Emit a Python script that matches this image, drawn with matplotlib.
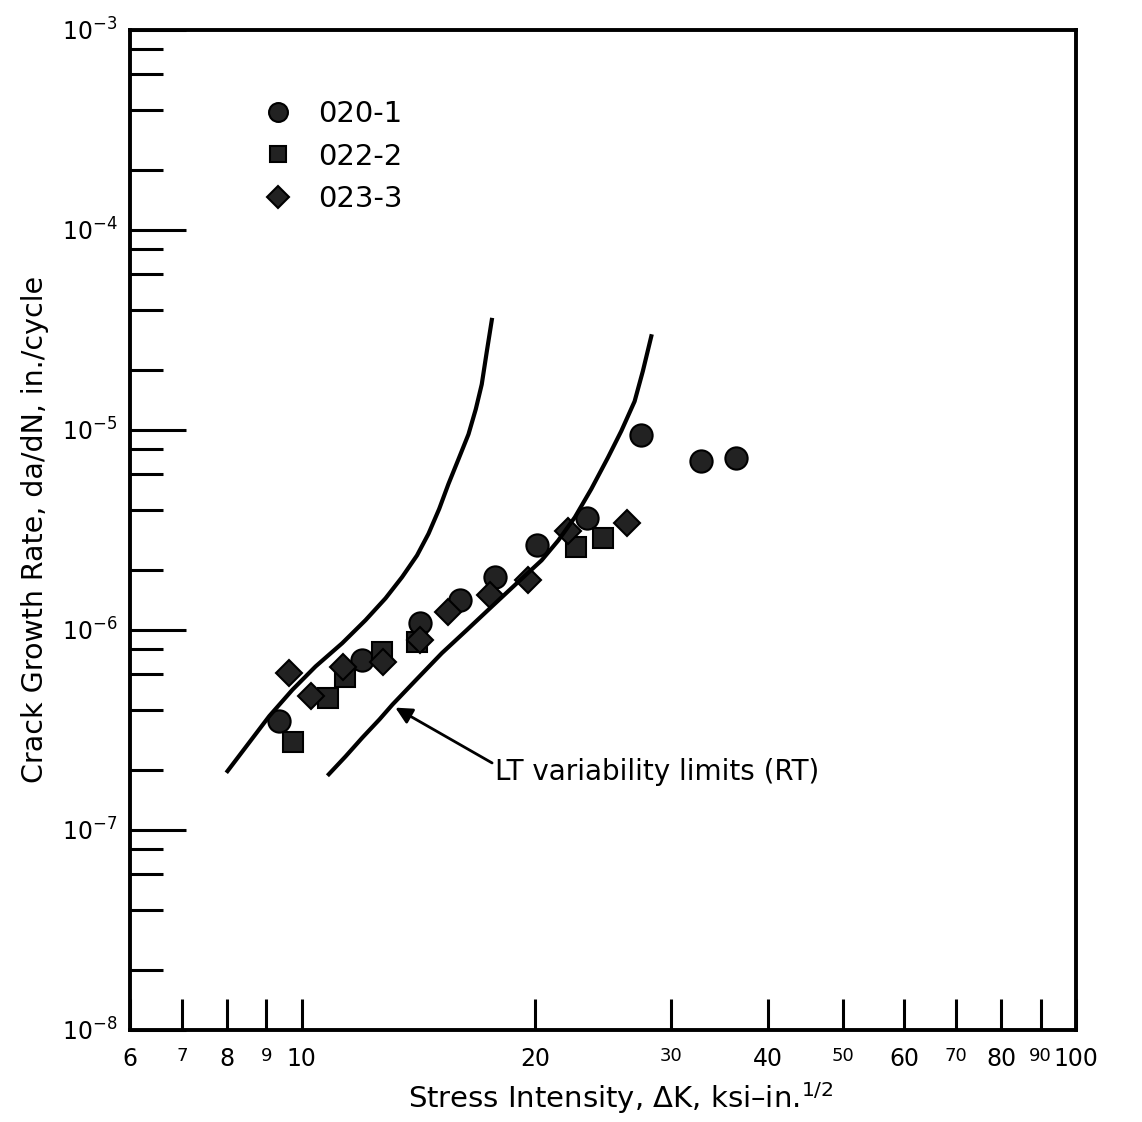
# Crack growth rate vs stress intensity, log-log

import matplotlib
matplotlib.use("Agg")
import matplotlib.pyplot as plt
from matplotlib.ticker import FixedLocator, NullFormatter, LogLocator

plt.rcParams["font.family"] = ["DejaVu Sans"]
plt.rcParams["mathtext.default"] = "regular"

# Data (dK in ksi-in^1/2, da/dN in in./cycle)
dk_020 = [9.34, 11.98, 14.23, 16.02, 17.76, 20.13, 23.34, 27.4, 32.8, 36.4]
rate_020 = [0.35e-6, 0.71e-6, 1.08e-6, 1.41e-6, 1.84e-6, 2.65e-6, 3.65e-6,
            9.4e-6, 7.0e-6, 7.26e-6]

dk_022 = [9.74, 10.8, 11.39, 12.71, 14.1, 22.6, 24.5]
rate_022 = [0.274e-6, 0.459e-6, 0.584e-6, 0.777e-6, 0.872e-6, 2.59e-6, 2.87e-6]

dk_023 = [9.62, 10.27, 11.32, 12.75, 14.23, 15.46, 17.51, 19.59, 22.06, 26.27]
rate_023 = [0.611e-6, 0.47e-6, 0.655e-6, 0.693e-6, 0.89e-6, 1.23e-6, 1.49e-6,
            1.77e-6, 3.14e-6, 3.41e-6]

# variability limit curves
lim_upper_dk = [8.02, 8.55, 9.08, 9.73, 10.42, 11.28, 12.09, 12.83, 13.48, 14.09,
                14.58, 15.05, 15.47, 15.94, 16.42, 16.78, 17.08, 17.34, 17.60]
lim_upper_rate = [1.97e-7, 2.73e-7, 3.71e-7, 5.03e-7, 6.57e-7, 8.59e-7, 1.12e-6,
                  1.44e-6, 1.84e-6, 2.36e-6, 3.03e-6, 4.03e-6, 5.37e-6, 7.15e-6,
                  9.52e-6, 1.27e-5, 1.69e-5, 2.47e-5, 3.55e-5]
lim_lower_dk = [10.84, 11.39, 11.98, 12.60, 13.10, 14.10, 15.17, 16.34, 17.60, 18.95,
                20.41, 21.44, 22.53, 23.66, 24.86, 25.87, 26.91, 27.58, 28.28]
lim_lower_rate = [1.90e-7, 2.33e-7, 2.90e-7, 3.57e-7, 4.24e-7, 5.71e-7, 7.66e-7,
                  1.0e-6, 1.31e-6, 1.71e-6, 2.23e-6, 2.80e-6, 3.66e-6, 5.07e-6,
                  7.28e-6, 9.89e-6, 1.39e-5, 1.97e-5, 2.94e-5]

x_ticks = [6, 7, 8, 9, 10, 20, 30, 40, 50, 60, 70, 80, 90, 100]
x_small = [7, 9, 30, 50, 70, 90]
y_ticks = [1e-8, 1e-7, 1e-6, 1e-5, 1e-4, 1e-3]
y_labels = ["$10^{-8}$", "$10^{-7}$", "$10^{-6}$", "$10^{-5}$", "$10^{-4}$", "$10^{-3}$"]

fig = plt.figure(figsize=(11.42, 11.22), dpi=100)
ax = fig.add_axes([0.1138, 0.082, 0.8284, 0.8913])
ax.set_xscale("log")
ax.set_yscale("log")
ax.set_xlim(6, 100)
ax.set_ylim(1e-8, 1e-3)

mk = dict(linestyle="none", markersize=16, markerfacecolor="#222222",
          markeredgecolor="black", markeredgewidth=1.5)
ax.plot(dk_020, rate_020, marker="o", label="020-1", **mk)
ax.plot(dk_022, rate_022, marker="s", label="022-2", **dict(mk, markersize=14))
ax.plot(dk_023, rate_023, marker="D", label="023-3", **dict(mk, markersize=13))

ax.plot(lim_upper_dk, lim_upper_rate, color="black", lw=3, solid_joinstyle="round")
ax.plot(lim_lower_dk, lim_lower_rate, color="black", lw=3, solid_joinstyle="round")

ax.annotate("LT variability limits (RT)", xy=(13.21, 4.09e-7), xytext=(17.76, 1.96e-7),
            fontsize=20, ha="left", va="center",
            arrowprops=dict(arrowstyle="-|>", color="black", lw=2,
                            mutation_scale=25, shrinkA=0, shrinkB=0,
                            relpos=(0.0, 0.75)))

# axes styling
for s in ax.spines.values():
    s.set_linewidth(2.8)

ax.xaxis.set_major_locator(FixedLocator(x_ticks))
ax.set_xticklabels([str(v) for v in x_ticks])
ax.xaxis.set_minor_locator(FixedLocator([10]))
ax.xaxis.set_minor_formatter(NullFormatter())
for lbl, v in zip(ax.get_xticklabels(), x_ticks):
    lbl.set_fontsize(13 if v in x_small else 17)

ax.yaxis.set_major_locator(FixedLocator(y_ticks))
ax.set_yticklabels(y_labels, fontsize=17)
ax.yaxis.set_minor_locator(LogLocator(base=10, subs=(2, 4, 6, 8)))
ax.yaxis.set_minor_formatter(NullFormatter())

ax.tick_params(axis="x", which="major", direction="in", length=22, width=2.2, pad=12)
ax.tick_params(axis="x", which="minor", direction="in", length=38, width=2.2)
ax.tick_params(axis="y", which="major", direction="in", length=40, width=2.2, pad=9)
ax.tick_params(axis="y", which="minor", direction="in", length=24, width=2.2)
ax.tick_params(which="both", top=False, right=False)

ax.legend(loc="upper left", bbox_to_anchor=(0.141, 0.93), frameon=False,
          fontsize=21, borderpad=0, handlelength=1.0, handletextpad=0.87,
          labelspacing=0.5, borderaxespad=0, markerscale=0.85)

fig.text(0.031, 0.528, "Crack Growth Rate, da/dN, in./cycle", rotation=90,
         ha="center", va="center", fontsize=20.5)
fig.text(0.543, 0.0214, "Stress Intensity, $\\Delta$K, ksi\u2013in.$^{1/2}$",
         ha="center", va="center", fontsize=21)

fig.savefig("out.png", dpi=100)
